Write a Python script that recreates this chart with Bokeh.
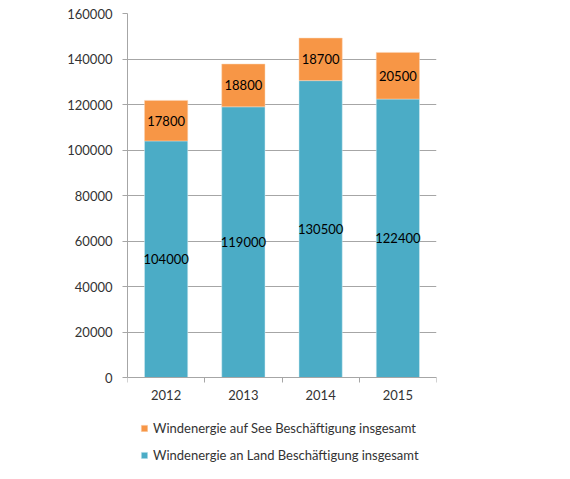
from bokeh.plotting import figure
from bokeh.models import (ColumnDataSource, Range1d, FixedTicker, BasicTickFormatter,
                          Legend, LegendItem)
from bokeh.core.properties import value
from bokeh.embed import file_html
from bokeh.resources import INLINE

# data
years = ["2012", "2013", "2014", "2015"]
land = [104000, 119000, 130500, 122400]
see = [17800, 18800, 18700, 20500]

FONT = "Lato"
GRAY = "#a6a6a6"
BLUE = "#4bacc6"
ORANGE = "#f79646"
YMAX = 160000

xs = [i + 0.5 for i in range(len(years))]
source = ColumnDataSource(data=dict(
    x=xs,
    land=land,
    see=see,
    total=[a + b for a, b in zip(land, see)],
    land_mid=[a / 2 for a in land],
    see_mid=[a + b / 2 for a, b in zip(land, see)],
    land_txt=[str(v) for v in land],
    see_txt=[str(v) for v in see],
))

# the frame reaches down to the bottom of the page so that the legend
# (which sits under the x axis) stays inside it; 0 lies 86px above the bottom
frame_h = 450
zero_px = 86
ymin = -YMAX * zero_px / (frame_h - zero_px)

p = figure(width=554, height=463, frame_width=309, frame_height=frame_h,
           output_backend="svg", toolbar_location=None,
           x_range=Range1d(0, len(years)), y_range=Range1d(ymin, YMAX),
           min_border_left=127, min_border_right=118, min_border_top=13, min_border_bottom=0)
p.outline_line_color = None
p.background_fill_color = "white"
p.border_fill_color = "white"

land_r = p.vbar(x="x", bottom=0, top="land", width=0.56, source=source,
                fill_color=BLUE, line_color="#d8eef4", line_width=0.5)
see_r = p.vbar(x="x", bottom="land", top="total", width=0.56, source=source,
               fill_color=ORANGE, line_color="#fbd5b5", line_width=0.5)

p.text(x="x", y="land_mid", text="land_txt", source=source, text_align="center",
       text_baseline="middle", text_font=value(FONT), text_font_size="13px", text_color="black")
p.text(x="x", y="see_mid", text="see_txt", source=source, text_align="center",
       text_baseline="middle", text_font=value(FONT), text_font_size="13px", text_color="black")

# axes
p.xgrid.visible = False
p.ygrid.grid_line_color = GRAY
p.ygrid.grid_line_width = 1

p.yaxis.ticker = FixedTicker(ticks=list(range(0, YMAX + 1, 20000)))
p.yaxis.bounds = (0, YMAX)
p.yaxis.formatter = BasicTickFormatter(use_scientific=False)
p.yaxis.axis_line_color = GRAY
p.yaxis.major_tick_line_color = GRAY
p.yaxis.major_tick_out = 5
p.yaxis.major_tick_in = 0
p.yaxis.minor_tick_line_color = None
p.yaxis.major_label_standoff = 10

p.xaxis.fixed_location = 0
p.xaxis.ticker = FixedTicker(ticks=xs, minor_ticks=list(range(len(years) + 1)))
p.xaxis.major_label_overrides = {x: y for x, y in zip(xs, years)}
p.xaxis.axis_line_color = GRAY
p.xaxis.major_tick_line_color = None
p.xaxis.major_tick_out = 5
p.xaxis.minor_tick_line_color = GRAY
p.xaxis.minor_tick_out = 5
p.xaxis.minor_tick_in = 0
p.xaxis.major_label_standoff = 7

for ax in (p.xaxis, p.yaxis):
    ax.major_label_text_font = FONT
    ax.major_label_text_font_size = "13px"
    ax.major_label_text_color = "#333333"

legend = Legend(items=[
    LegendItem(label="Windenergie auf See Beschäftigung insgesamt", renderers=[see_r]),
    LegendItem(label="Windenergie an Land Beschäftigung insgesamt", renderers=[land_r]),
], location=(13, 0))
legend.border_line_color = None
legend.background_fill_alpha = 0
legend.padding = 0
legend.margin = 0
legend.spacing = 11
legend.glyph_width = 8
legend.glyph_height = 8
legend.label_height = 16
legend.label_standoff = 5
legend.label_text_font = FONT
legend.label_text_font_size = "13px"
legend.label_text_color = "#333333"
p.add_layout(legend, "center")

open("out.html", "w").write(file_html(p, INLINE))
